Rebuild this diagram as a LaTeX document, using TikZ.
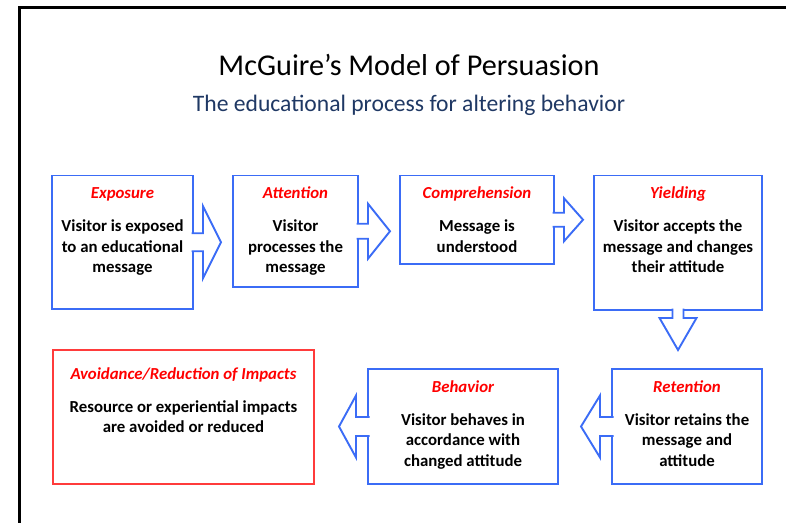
\documentclass[tikz,border=0pt]{standalone}
\usepackage{fontspec}
\setmainfont{Carlito}
\usetikzlibrary{positioning}
\definecolor{boxblue}{HTML}{3B6CF6}
\definecolor{boxred}{HTML}{FF3B3B}
\definecolor{subnavy}{HTML}{1F3864}

\begin{document}
\begin{tikzpicture}[
	x=1pt, y=-1pt,
	block/.style={rectangle, draw=boxblue, line width=1.9pt, outer sep=0pt, inner sep=0pt, anchor=north west},
	goal/.style={block, draw=boxred},
	btext/.style={anchor=north, align=center, inner sep=0pt, font=\fontsize{16.8}{20.5}\selectfont\bfseries},
	line/.style={draw=boxblue, fill=white, line width=1.9pt, line join=miter},
	]
	\useasboundingbox (0,0) rectangle (786,522);
	\draw [line width=3pt, line join=miter] (19.5,540) -- (19.5,7) -- (800,7);
	
	\node [anchor=base, font=\fontsize{30.2}{36}\selectfont] (title) at (409,75) {McGuire’s Model of Persuasion};
	\node [anchor=base, text=subnavy, font=\fontsize{23.6}{28}\selectfont] (subtitle) at (409,111) {The educational process for altering behavior};
	
	\node [block, minimum width=141pt, minimum height=133.5pt] (expo) at (52,175.5) {};
	\node [block, right=40pt of expo.north east, anchor=north west, minimum width=125pt, minimum height=111.5pt] (atte) {};
	\node [block, right=42pt of atte.north east, anchor=north west, minimum width=154pt, minimum height=88.5pt] (comp) {};
	\node [block, right=40pt of comp.north east, anchor=north west, minimum width=168pt, minimum height=134.5pt] (yiel) {};
	\node [block, below=59pt of yiel.south east, anchor=north east, minimum width=150pt, minimum height=115pt] (rete) {};
	\node [block, left=54pt of rete.north west, anchor=north east, minimum width=190pt, minimum height=115pt] (beha) {};
	\node [goal, left=54pt of beha.south west, anchor=south east, minimum width=261pt, minimum height=134pt] (avoi) {};
	
	\node [btext] (expo-t) at ([yshift=-8.65pt]expo.north) {\strut{\color{red}\itshape Exposure}\\[12.5pt] Visitor is exposed\\ to an educational\\ message};
	\node [btext] (atte-t) at ([yshift=-8.65pt]atte.north) {\strut{\color{red}\itshape Attention}\\[12.5pt] Visitor\\ processes the\\ message};
	\node [btext] (comp-t) at ([yshift=-8.65pt]comp.north) {\strut{\color{red}\itshape Comprehension}\\[12.5pt] Message is\\ understood};
	\node [btext] (yiel-t) at ([yshift=-8.65pt]yiel.north) {\strut{\color{red}\itshape Yielding}\\[12.5pt] Visitor accepts the\\ message and changes\\ their attitude};
	\node [btext] (rete-t) at ([yshift=-8.65pt]rete.north) {\strut{\color{red}\itshape Retention}\\[12.5pt] Visitor retains the\\ message and\\ attitude};
	\node [btext] (beha-t) at ([yshift=-8.65pt]beha.north) {\strut{\color{red}\itshape Behavior}\\[12.5pt] Visitor behaves in\\ accordance with\\ changed attitude};
	\node [btext] (avoi-t) at ([yshift=-14.65pt]avoi.north) {\strut{\color{red}\itshape Avoidance/Reduction of Impacts}\\[12.5pt] Resource or experiential impacts\\ are avoided or reduced};
	
	\path [line] (expo.east) ++(-1.5,-9) -- ++(11.5,0) -- ++(0,-27) -- ++(18,36) -- ++(-18,36) -- ++(0,-27) -- ++(-11.5,0);
	\path [line] (atte.east) ++(-1.5,-7.5) -- ++(11.5,0) -- ++(0,-20) -- ++(22,27.5) -- ++(-22,27.5) -- ++(0,-20) -- ++(-11.5,0);
	\path [line] (comp.east) ++(-1.5,-7) -- ++(11.5,0) -- ++(0,-14.5) -- ++(19,21.5) -- ++(-19,21.5) -- ++(0,-14.5) -- ++(-11.5,0);
	\path [line] (yiel.south) ++(-5.5,-1.5) -- ++(0,9.5) -- ++(-13,0) -- ++(18.5,32) -- ++(18.5,-32) -- ++(-13,0) -- ++(0,-9.5);
	\path [line] (rete.west) ++(1.5,-9.5) -- ++(-13.5,0) -- ++(0,-21.5) -- ++(-19,31) -- ++(19,31) -- ++(0,-21.5) -- ++(13.5,0);
	\path [line] (beha.west) ++(1.5,-9.5) -- ++(-13.5,0) -- ++(0,-21.5) -- ++(-17,31) -- ++(17,31) -- ++(0,-21.5) -- ++(13.5,0);
\end{tikzpicture}
\end{document}
